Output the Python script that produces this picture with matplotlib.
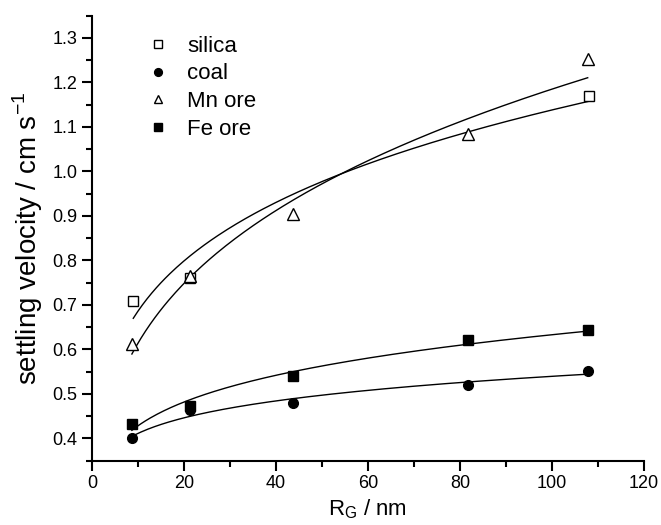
import numpy as np
import matplotlib
matplotlib.use('Agg')
import matplotlib.pyplot as plt
from matplotlib.ticker import MultipleLocator

plt.rcParams['font.family'] = ['Liberation Sans', 'DejaVu Sans']
plt.rcParams['mathtext.fontset'] = 'custom'
plt.rcParams['mathtext.rm'] = 'Liberation Sans'

# Data (R_G in nm, settling velocity in cm/s)
silica_x = [9, 21.4, 108]
silica_y = [0.71, 0.76, 1.17]
coal_x = [8.7, 21.4, 43.7, 81.7, 107.8]
coal_y = [0.40, 0.463, 0.48, 0.521, 0.551]
mn_x = [8.7, 21.4, 43.7, 81.7, 107.8]
mn_y = [0.613, 0.764, 0.905, 1.085, 1.253]
fe_x = [8.7, 21.4, 43.7, 81.7, 107.8]
fe_y = [0.433, 0.472, 0.54, 0.621, 0.643]


def power_fit(xs, ys):
    # y = a * x^b, least squares in linear space (Gauss-Newton from log fit)
    b, lna = np.polyfit(np.log(xs), np.log(ys), 1)
    a = np.exp(lna)
    for _ in range(50):
        f = a * xs ** b
        J = np.column_stack([xs ** b, a * xs ** b * np.log(xs)])
        step, *_ = np.linalg.lstsq(J, ys - f, rcond=None)
        a, b = a + step[0], b + step[1]
    return a, b


fig = plt.figure(figsize=(6.61, 5.25), dpi=100)
ax = fig.add_axes([0.139, 0.1225, 0.835, 0.8475])

series = [
    ('silica', silica_x, silica_y, 's', 'white', 6.5),
    ('coal', coal_x, coal_y, 'o', 'black', 7),
    ('Mn ore', mn_x, mn_y, '^', 'white', 8),
    ('Fe ore', fe_x, fe_y, 's', 'black', 6.5),
]

for name, xs, ys, m, fc, ms in series:
    xs = np.array(xs, dtype=float)
    ys = np.array(ys, dtype=float)
    a, b = power_fit(xs, ys)
    xf = np.linspace(xs.min(), xs.max(), 200)
    ax.plot(xf, a * xf ** b, color='black', lw=1.0)

for name, xs, ys, m, fc, ms in series:
    ax.plot(xs, ys, linestyle='none', marker=m, markersize=ms,
            markerfacecolor=fc, markeredgecolor='black', markeredgewidth=1.0,
            label=name)

ax.set_xlim(0, 120)
ax.set_ylim(0.35, 1.35)
ax.xaxis.set_major_locator(MultipleLocator(20))
ax.xaxis.set_minor_locator(MultipleLocator(10))
ax.yaxis.set_major_locator(MultipleLocator(0.1))
ax.yaxis.set_minor_locator(MultipleLocator(0.05))
ax.yaxis.set_major_formatter(plt.FuncFormatter(lambda v, p: f'{v:.1f}'))

ax.spines['top'].set_visible(False)
ax.spines['right'].set_visible(False)
ax.spines['left'].set_linewidth(1.5)
ax.spines['bottom'].set_linewidth(1.5)
ax.tick_params(which='major', direction='out', length=7, width=1.5, labelsize=13)
ax.tick_params(which='minor', direction='out', length=4, width=1.5)

ax.set_xlabel(r'R$_\mathregular{G}$ / nm', fontsize=16, labelpad=4)
ax.set_ylabel(r'settling velocity / cm s$^\mathregular{-1}$', fontsize=20, labelpad=5)

ax.legend(loc='upper left', bbox_to_anchor=(0.064, 1.0), frameon=False,
          fontsize=16, markerscale=0.8, handletextpad=0.8, labelspacing=0.3,
          handlelength=1.0)

fig.savefig('out.png', dpi=100)
